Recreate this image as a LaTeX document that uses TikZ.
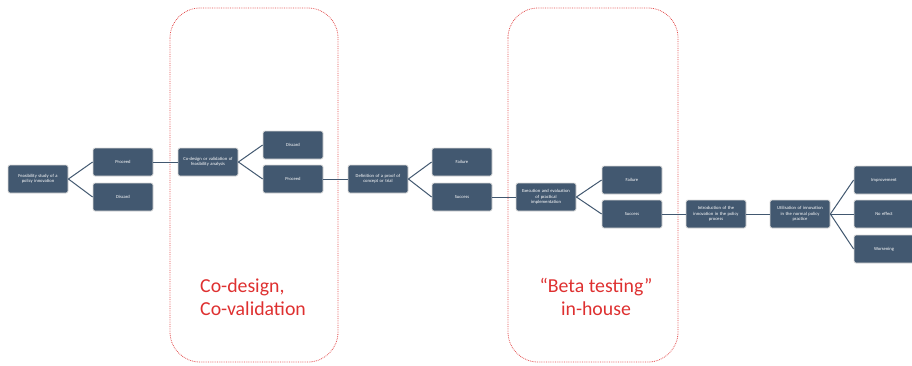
\documentclass[tikz,border=0pt]{standalone}
\usepackage{fontspec}
\setmainfont{Carlito}
\usetikzlibrary{positioning}
\definecolor{slate}{RGB}{66,88,112}
\definecolor{phasered}{RGB}{222,48,48}
\tikzset{
stepbox/.style={
  rectangle,
  rounded corners=2pt,
  line width=0.8pt,
  draw={rgb:black,1;white,6},
  fill=slate,
  text=white,
  inner sep=0pt,
  minimum width=60pt,
  minimum height=28pt,
  text width=58pt,
  align=center,
  font=\fontsize{4.6}{5.4}\selectfont,
  }
}
\tikzset{
link/.style={
  line width=1pt,
  draw=slate,
  }
}
\tikzset{
phase/.style={
  draw=phasered!85,
  densely dotted,
  line width=0.8pt,
  rounded corners=30pt,
  }
}

\begin{document}
\begin{tikzpicture}[x=1pt,y=-1pt]
    \useasboundingbox (0,0) rectangle (912,365);

    % phase frames
    \path[phase] (170,8) rectangle (338,362);
    \path[phase] (508,8) rectangle (678,362);
    \node[text=phasered, font=\fontsize{19.8}{22.5}\selectfont, align=left, anchor=west, inner sep=0pt] (codesign) at (200,297) {Co-design,\\Co-validation};
    \node[text=phasered, font=\fontsize{19.8}{22.5}\selectfont, align=center, inner sep=0pt] (beta) at (596,297) {``Beta testing''\\in-house};

    % feasibility part
    \node[stepbox] (feas) at (38,179) {Feasibility study of a\\policy innovation};
    \node[stepbox] (feas_go) at (123,162) {Proceed};
    \node[stepbox] (feas_no) at (123,197) {Discard};

    % co-design part
    \node[stepbox] (cod) at (208,162) {Co-design or validation of\\feasibility analysis};
    \node[stepbox] (cod_no) at (293,145) {Discard};
    \node[stepbox] (cod_go) at (293,179) {Proceed};

    % proof of concept part
    \node[stepbox] (poc) at (378,179) {Definition of a proof of\\concept or trial};
    \node[stepbox] (poc_fail) at (462,162) {Failure};
    \node[stepbox] (poc_ok) at (462,197) {Success};

    % beta testing part
    \node[stepbox] (exe) at (546,197) {Execution and evaluation\\of practical\\implementation};
    \node[stepbox] (exe_fail) at (632,180) {Failure};
    \node[stepbox] (exe_ok) at (632,214) {Success};

    % policy part
    \node[stepbox] (intro) at (716,214) {Introduction of the\\innovation in the policy\\process};
    \node[stepbox] (util) at (800,214) {Utilisation of innovation\\in the normal policy\\practice};
    \node[stepbox] (better) at (884,180) {Improvement};
    \node[stepbox] (same) at (884,214) {No effect};
    \node[stepbox] (worse) at (884,249) {Worsening};

    % feasibility edges
    \draw[link] (feas.east) -- (feas_go.west);
    \draw[link] (feas.east) -- (feas_no.west);
    \draw[link] (feas_go) -- (cod);

    % co-design edges
    \draw[link] (cod.east) -- (cod_no.west);
    \draw[link] (cod.east) -- (cod_go.west);
    \draw[link] (cod_go.east) -- (cod_go.east -| poc.west);

    % proof of concept edges
    \draw[link] (poc.east) -- (poc_fail.west);
    \draw[link] (poc.east) -- (poc_ok.west);
    \draw[link] (poc_ok) -- (exe);

    % beta testing edges
    \draw[link] (exe.east) -- (exe_fail.west);
    \draw[link] (exe.east) -- (exe_ok.west);
    \draw[link] (exe_ok) -- (intro);

    % policy edges
    \draw[link] (intro) -- (util);
    \draw[link] (util.east) -- (better.west);
    \draw[link] (util.east) -- (same.west);
    \draw[link] (util.east) -- (worse.west);
\end{tikzpicture}
\end{document}
